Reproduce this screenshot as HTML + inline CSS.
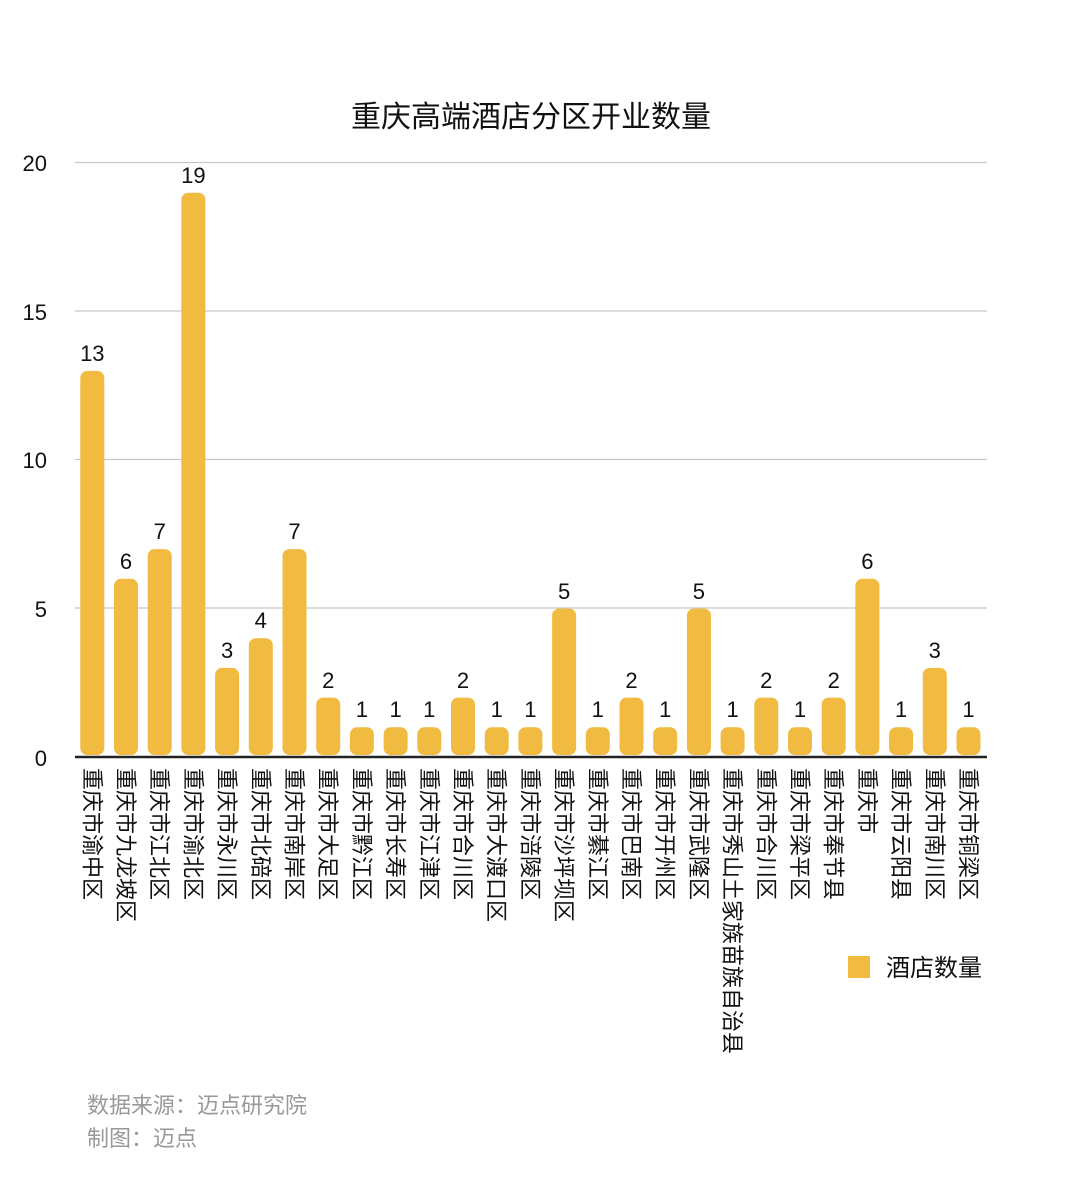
<!DOCTYPE html>
<html><head><meta charset="utf-8"><style>
html,body{margin:0;padding:0;background:#fff;}
svg{display:block;font-family:"Liberation Sans","Noto Sans CJK SC",sans-serif;}
g g text[transform]{font-size:22px;}
</style></head><body>
<svg width="1080" height="1199" viewBox="0 0 1080 1199" xmlns="http://www.w3.org/2000/svg">
<text x="531" y="127" font-size="30" text-anchor="middle" fill="#111">重庆高端酒店分区开业数量</text>
<g stroke="#c8c8c8" stroke-width="1.2">
<line x1="75" y1="162.5" x2="987" y2="162.5"/>
<line x1="75" y1="311" x2="987" y2="311"/>
<line x1="75" y1="459.5" x2="987" y2="459.5"/>
<line x1="75" y1="608" x2="987" y2="608"/>
</g>
<line x1="75" y1="757" x2="987" y2="757" stroke="#222" stroke-width="2.5"/>
<g font-size="22" text-anchor="end" fill="#111">
<text x="47" y="171">20</text><text x="47" y="320">15</text><text x="47" y="468">10</text><text x="47" y="617">5</text><text x="47" y="766">0</text>
</g>
<g fill="#111" font-size="22">
<g transform="translate(92.3,0)"><rect x="-12" y="370.9" width="24" height="384.1" rx="7" fill="#f0bb40"/><text x="0" y="361" text-anchor="middle">13</text><text transform="translate(-8,768) rotate(90)" font-size="21">重庆市渝中区</text></g>
<g transform="translate(126,0)"><rect x="-12" y="578.8" width="24" height="176.2" rx="7" fill="#f0bb40"/><text x="0" y="569" text-anchor="middle">6</text><text transform="translate(-8,768) rotate(90)" font-size="21">重庆市九龙坡区</text></g>
<g transform="translate(159.7,0)"><rect x="-12" y="549.1" width="24" height="205.9" rx="7" fill="#f0bb40"/><text x="0" y="539" text-anchor="middle">7</text><text transform="translate(-8,768) rotate(90)" font-size="21">重庆市江北区</text></g>
<g transform="translate(193.4,0)"><rect x="-12" y="192.7" width="24" height="562.3" rx="7" fill="#f0bb40"/><text x="0" y="183" text-anchor="middle">19</text><text transform="translate(-8,768) rotate(90)" font-size="21">重庆市渝北区</text></g>
<g transform="translate(227.1,0)"><rect x="-12" y="667.9" width="24" height="87.1" rx="7" fill="#f0bb40"/><text x="0" y="658" text-anchor="middle">3</text><text transform="translate(-8,768) rotate(90)" font-size="21">重庆市永川区</text></g>
<g transform="translate(260.8,0)"><rect x="-12" y="638.2" width="24" height="116.8" rx="7" fill="#f0bb40"/><text x="0" y="628" text-anchor="middle">4</text><text transform="translate(-8,768) rotate(90)" font-size="21">重庆市北碚区</text></g>
<g transform="translate(294.5,0)"><rect x="-12" y="549.1" width="24" height="205.9" rx="7" fill="#f0bb40"/><text x="0" y="539" text-anchor="middle">7</text><text transform="translate(-8,768) rotate(90)" font-size="21">重庆市南岸区</text></g>
<g transform="translate(328.2,0)"><rect x="-12" y="697.6" width="24" height="57.4" rx="7" fill="#f0bb40"/><text x="0" y="688" text-anchor="middle">2</text><text transform="translate(-8,768) rotate(90)" font-size="21">重庆市大足区</text></g>
<g transform="translate(361.9,0)"><rect x="-12" y="727.3" width="24" height="27.7" rx="7" fill="#f0bb40"/><text x="0" y="717" text-anchor="middle">1</text><text transform="translate(-8,768) rotate(90)" font-size="21">重庆市黔江区</text></g>
<g transform="translate(395.6,0)"><rect x="-12" y="727.3" width="24" height="27.7" rx="7" fill="#f0bb40"/><text x="0" y="717" text-anchor="middle">1</text><text transform="translate(-8,768) rotate(90)" font-size="21">重庆市长寿区</text></g>
<g transform="translate(429.3,0)"><rect x="-12" y="727.3" width="24" height="27.7" rx="7" fill="#f0bb40"/><text x="0" y="717" text-anchor="middle">1</text><text transform="translate(-8,768) rotate(90)" font-size="21">重庆市江津区</text></g>
<g transform="translate(463,0)"><rect x="-12" y="697.6" width="24" height="57.4" rx="7" fill="#f0bb40"/><text x="0" y="688" text-anchor="middle">2</text><text transform="translate(-8,768) rotate(90)" font-size="21">重庆市合川区</text></g>
<g transform="translate(496.7,0)"><rect x="-12" y="727.3" width="24" height="27.7" rx="7" fill="#f0bb40"/><text x="0" y="717" text-anchor="middle">1</text><text transform="translate(-8,768) rotate(90)" font-size="21">重庆市大渡口区</text></g>
<g transform="translate(530.4,0)"><rect x="-12" y="727.3" width="24" height="27.7" rx="7" fill="#f0bb40"/><text x="0" y="717" text-anchor="middle">1</text><text transform="translate(-8,768) rotate(90)" font-size="21">重庆市涪陵区</text></g>
<g transform="translate(564.1,0)"><rect x="-12" y="608.5" width="24" height="146.5" rx="7" fill="#f0bb40"/><text x="0" y="599" text-anchor="middle">5</text><text transform="translate(-8,768) rotate(90)" font-size="21">重庆市沙坪坝区</text></g>
<g transform="translate(597.8,0)"><rect x="-12" y="727.3" width="24" height="27.7" rx="7" fill="#f0bb40"/><text x="0" y="717" text-anchor="middle">1</text><text transform="translate(-8,768) rotate(90)" font-size="21">重庆市綦江区</text></g>
<g transform="translate(631.5,0)"><rect x="-12" y="697.6" width="24" height="57.4" rx="7" fill="#f0bb40"/><text x="0" y="688" text-anchor="middle">2</text><text transform="translate(-8,768) rotate(90)" font-size="21">重庆市巴南区</text></g>
<g transform="translate(665.2,0)"><rect x="-12" y="727.3" width="24" height="27.7" rx="7" fill="#f0bb40"/><text x="0" y="717" text-anchor="middle">1</text><text transform="translate(-8,768) rotate(90)" font-size="21">重庆市开州区</text></g>
<g transform="translate(698.9,0)"><rect x="-12" y="608.5" width="24" height="146.5" rx="7" fill="#f0bb40"/><text x="0" y="599" text-anchor="middle">5</text><text transform="translate(-8,768) rotate(90)" font-size="21">重庆市武隆区</text></g>
<g transform="translate(732.6,0)"><rect x="-12" y="727.3" width="24" height="27.7" rx="7" fill="#f0bb40"/><text x="0" y="717" text-anchor="middle">1</text><text transform="translate(-8,768) rotate(90)" font-size="21">重庆市秀山土家族苗族自治县</text></g>
<g transform="translate(766.3,0)"><rect x="-12" y="697.6" width="24" height="57.4" rx="7" fill="#f0bb40"/><text x="0" y="688" text-anchor="middle">2</text><text transform="translate(-8,768) rotate(90)" font-size="21">重庆市合川区</text></g>
<g transform="translate(800,0)"><rect x="-12" y="727.3" width="24" height="27.7" rx="7" fill="#f0bb40"/><text x="0" y="717" text-anchor="middle">1</text><text transform="translate(-8,768) rotate(90)" font-size="21">重庆市梁平区</text></g>
<g transform="translate(833.7,0)"><rect x="-12" y="697.6" width="24" height="57.4" rx="7" fill="#f0bb40"/><text x="0" y="688" text-anchor="middle">2</text><text transform="translate(-8,768) rotate(90)" font-size="21">重庆市奉节县</text></g>
<g transform="translate(867.4,0)"><rect x="-12" y="578.8" width="24" height="176.2" rx="7" fill="#f0bb40"/><text x="0" y="569" text-anchor="middle">6</text><text transform="translate(-8,768) rotate(90)" font-size="21">重庆市</text></g>
<g transform="translate(901.1,0)"><rect x="-12" y="727.3" width="24" height="27.7" rx="7" fill="#f0bb40"/><text x="0" y="717" text-anchor="middle">1</text><text transform="translate(-8,768) rotate(90)" font-size="21">重庆市云阳县</text></g>
<g transform="translate(934.8,0)"><rect x="-12" y="667.9" width="24" height="87.1" rx="7" fill="#f0bb40"/><text x="0" y="658" text-anchor="middle">3</text><text transform="translate(-8,768) rotate(90)" font-size="21">重庆市南川区</text></g>
<g transform="translate(968.5,0)"><rect x="-12" y="727.3" width="24" height="27.7" rx="7" fill="#f0bb40"/><text x="0" y="717" text-anchor="middle">1</text><text transform="translate(-8,768) rotate(90)" font-size="21">重庆市铜梁区</text></g>
</g>
<rect x="848" y="956" width="22" height="22" fill="#f0bb40"/>
<text x="886" y="976" font-size="24" fill="#111">酒店数量</text>
<text x="87" y="1113" font-size="22" fill="#999">数据来源：迈点研究院</text>
<text x="87" y="1146" font-size="22" fill="#999">制图：迈点</text>
</svg>
</body></html>
